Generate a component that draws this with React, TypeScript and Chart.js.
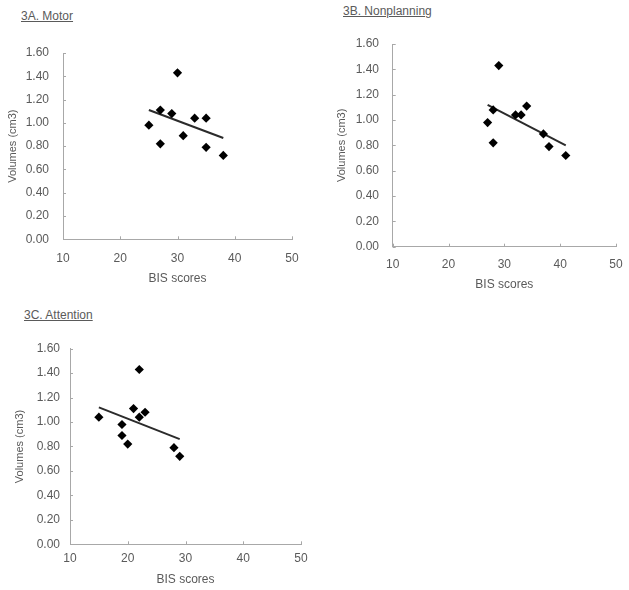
import React, { useEffect, useRef } from "react";
import { Chart, registerables } from "chart.js";
Chart.register(...registerables);

// ---- data ----
const xTickValues = [10, 20, 30, 40, 50];
const yTickValues = [0, 0.2, 0.4, 0.6, 0.8, 1.0, 1.2, 1.4, 1.6];

const motorScores = [25, 27, 27, 29, 30, 31, 33, 35, 35, 38];
const motorVolumes = [0.98, 1.11, 0.82, 1.08, 1.43, 0.89, 1.04, 1.04, 0.79, 0.72];
const motorTrendScores = [25, 38];
const motorTrendVolumes = [1.11, 0.87];

const nonplanningScores = [27, 28, 28, 29, 32, 33, 34, 37, 38, 41];
const nonplanningVolumes = [0.98, 1.08, 0.82, 1.43, 1.04, 1.04, 1.11, 0.89, 0.79, 0.72];
const nonplanningTrendScores = [27, 41];
const nonplanningTrendVolumes = [1.12, 0.8];

const attentionScores = [15, 19, 19, 20, 21, 22, 22, 23, 28, 29];
const attentionVolumes = [1.04, 0.98, 0.89, 0.82, 1.11, 1.43, 1.04, 1.08, 0.79, 0.72];
const attentionTrendScores = [15, 29];
const attentionTrendVolumes = [1.12, 0.86];

const FONT = "'Liberation Sans', Arial, sans-serif";
const TEXT = "#5a5a5a";
const AXIS = "#a8a8a8";

type Geo = {
  cx: number; cy: number; cw: number;
  L: number; T: number; R: number; B: number;
  yTitleX: number; xTitleY: number; xTickY: number; yTickRight: number;
  titleLeft: number; titleTop: number;
};

const geoA: Geo = { cx: 0, cy: 30, cw: 305, L: 63, T: 53, R: 292, B: 239.3, yTitleX: 12.7, xTitleY: 279, xTickY: 258.3, yTickRight: 49, titleLeft: 21, titleTop: 9 };
const geoB: Geo = { cx: 315, cy: 25, cw: 314, L: 392.7, T: 44, R: 616, B: 246.7, yTitleX: 342, xTitleY: 285, xTickY: 265, yTickRight: 379, titleLeft: 343, titleTop: 4 };
const geoC: Geo = { cx: 0, cy: 330, cw: 315, L: 70, T: 348.7, R: 301, B: 544.3, yTitleX: 20, xTitleY: 580, xTickY: 558.3, yTickRight: 60, titleLeft: 24, titleTop: 308 };

const innerTicks = {
  id: "innerTicks",
  afterDraw(chart: any) {
    const ctx = chart.ctx;
    const xs = chart.scales.x;
    const ys = chart.scales.y;
    const area = chart.chartArea;
    ctx.save();
    ctx.strokeStyle = AXIS;
    ctx.lineWidth = 1;
    ctx.beginPath();
    xs.ticks.forEach((t: any) => {
      const px = Math.round(xs.getPixelForValue(t.value)) + 0.5;
      ctx.moveTo(px, area.bottom);
      ctx.lineTo(px, area.bottom - 3);
    });
    ys.ticks.forEach((t: any) => {
      const py = Math.round(ys.getPixelForValue(t.value)) + 0.5;
      ctx.moveTo(area.left, py);
      ctx.lineTo(area.left + 3, py);
    });
    ctx.stroke();
    ctx.restore();
  },
};

function Panel(props: { title: string; scores: number[]; volumes: number[]; trendScores: number[]; trendVolumes: number[]; geo: Geo }) {
  const ref = useRef<HTMLCanvasElement>(null);
  const g = props.geo;
  const titleLH = 14.4;
  const contentBottom = g.xTitleY + titleLH / 2 - g.cy;
  const ch = Math.ceil(contentBottom);

  useEffect(() => {
    if (!ref.current) return;
    const padLeft = g.yTitleX - titleLH / 2 - g.cx;
    const yWidth = g.L - g.cx - padLeft;
    const xHeight = g.xTitleY + titleLH / 2 - g.B;
    const chart = new Chart(ref.current, {
      type: "scatter",
      data: {
        datasets: [
          {
            label: "points",
            data: props.scores.map((s, i) => ({ x: s, y: props.volumes[i] })),
            pointStyle: "rectRot",
            pointRadius: 4.6,
            backgroundColor: "#000",
            borderColor: "#000",
            borderWidth: 0,
            order: 1,
          },
          {
            label: "trend",
            type: "line",
            data: props.trendScores.map((s, i) => ({ x: s, y: props.trendVolumes[i] })),
            borderColor: "#2b2b2b",
            borderWidth: 2,
            pointRadius: 0,
            fill: false,
            order: 2,
          } as any,
        ],
      },
      options: {
        responsive: false,
        animation: false,
        devicePixelRatio: 1,
        layout: {
          padding: {
            left: padLeft,
            top: g.T - g.cy,
            right: g.cx + g.cw - g.R,
            bottom: ch - contentBottom,
          },
        },
        plugins: { legend: { display: false }, tooltip: { enabled: false } },
        scales: {
          x: {
            type: "linear",
            min: xTickValues[0],
            max: xTickValues[xTickValues.length - 1],
            afterBuildTicks: (s: any) => { s.ticks = xTickValues.map((v) => ({ value: v })); },
            afterFit: (s: any) => { s.height = xHeight; s.paddingLeft = 0; s.paddingRight = 0; },
            grid: { drawOnChartArea: false, drawTicks: false },
            border: { color: AXIS, width: 1 },
            ticks: {
              color: TEXT,
              font: { family: FONT, size: 12, lineHeight: 1.2 },
              padding: g.xTickY - g.B - 7.2,
              maxRotation: 0,
            },
            title: {
              display: true,
              text: "BIS scores",
              color: TEXT,
              font: { family: FONT, size: 12, lineHeight: 1.2 },
              padding: 0,
            },
          },
          y: {
            type: "linear",
            min: yTickValues[0],
            max: yTickValues[yTickValues.length - 1],
            afterBuildTicks: (s: any) => { s.ticks = yTickValues.map((v) => ({ value: v })); },
            afterFit: (s: any) => { s.width = yWidth; s.paddingTop = 0; s.paddingBottom = 0; },
            grid: { drawOnChartArea: false, drawTicks: false },
            border: { color: AXIS, width: 1 },
            ticks: {
              color: TEXT,
              font: { family: FONT, size: 12, lineHeight: 1.2 },
              padding: g.L - g.yTickRight,
              callback: (v: any) => Number(v).toFixed(2),
            },
            title: {
              display: true,
              text: "Volumes (cm3)",
              color: TEXT,
              font: { family: FONT, size: 11, lineHeight: 14.4 / 11 },
              padding: 0,
            },
          },
        },
      },
      plugins: [innerTicks],
    } as any);
    return () => chart.destroy();
  }, []);

  return (
    <>
      <div
        style={{
          position: "absolute",
          left: g.titleLeft,
          top: g.titleTop,
          font: `12px ${FONT}`,
          lineHeight: "14px",
          color: TEXT,
          textDecoration: "underline",
          whiteSpace: "nowrap",
        }}
      >
        {props.title}
      </div>
      <canvas
        ref={ref}
        width={g.cw}
        height={ch}
        style={{ position: "absolute", left: g.cx, top: g.cy, width: g.cw, height: ch }}
      />
    </>
  );
}

export default function App() {
  return (
    <div style={{ position: "absolute", left: 0, top: 0, width: 629, height: 590, background: "#fff", overflow: "hidden" }}>
      <Panel title="3A. Motor" scores={motorScores} volumes={motorVolumes} trendScores={motorTrendScores} trendVolumes={motorTrendVolumes} geo={geoA} />
      <Panel title="3B. Nonplanning" scores={nonplanningScores} volumes={nonplanningVolumes} trendScores={nonplanningTrendScores} trendVolumes={nonplanningTrendVolumes} geo={geoB} />
      <Panel title="3C. Attention" scores={attentionScores} volumes={attentionVolumes} trendScores={attentionTrendScores} trendVolumes={attentionTrendVolumes} geo={geoC} />
    </div>
  );
}
